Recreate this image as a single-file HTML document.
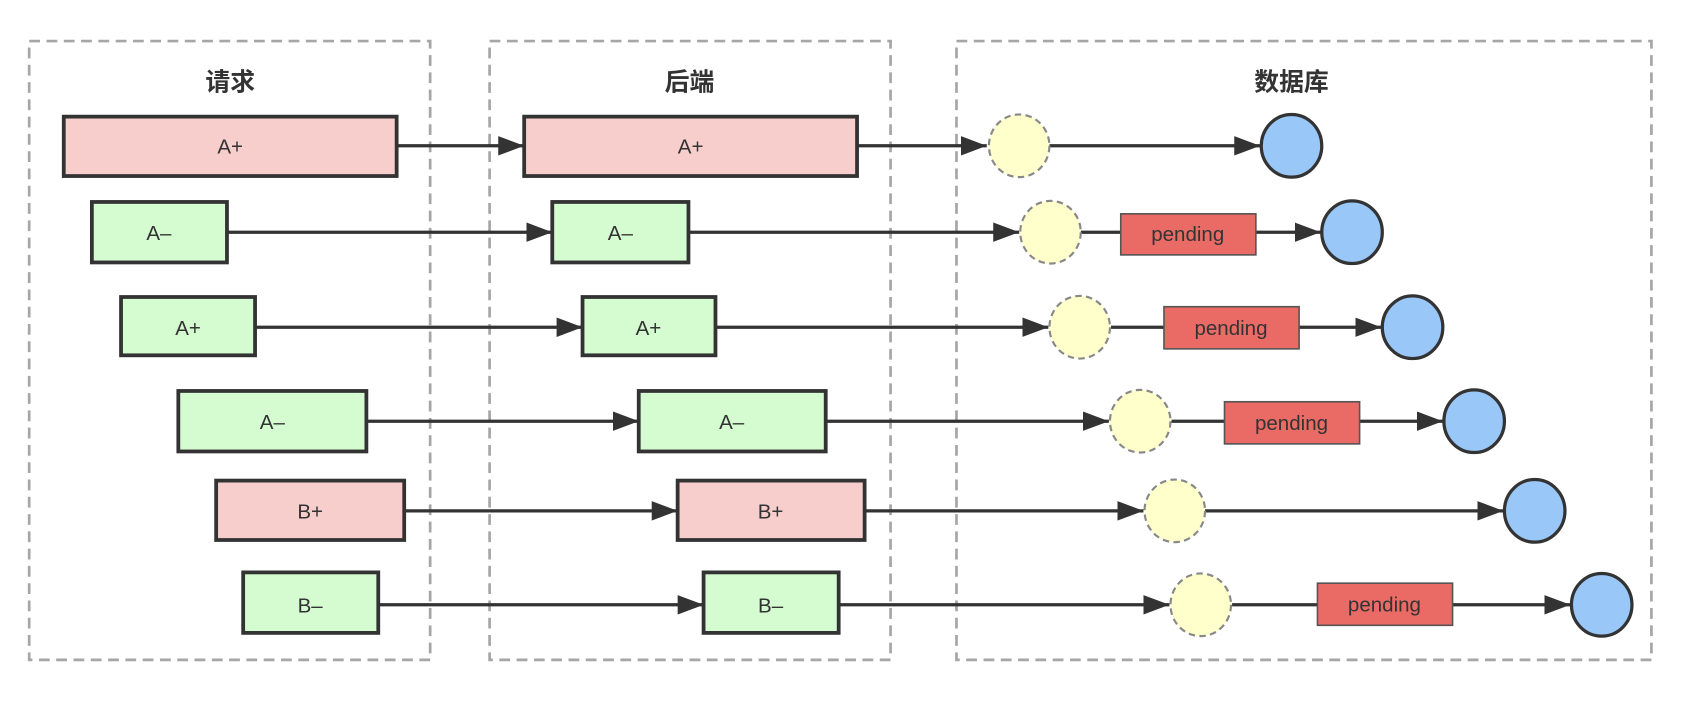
<!DOCTYPE html>
<html><head><meta charset="utf-8"><style>
html,body{margin:0;padding:0;background:#fff;}
svg{display:block;}
text{font-family:"Liberation Sans","Noto Sans CJK SC",sans-serif;}
</style></head><body>
<svg width="1686" height="702" viewBox="0 0 1560 650" preserveAspectRatio="none" xmlns="http://www.w3.org/2000/svg">
<defs>
<marker id="ar" markerWidth="24" markerHeight="18" refX="24" refY="9" orient="auto" markerUnits="userSpaceOnUse">
<path d="M0,0 L24,9 L0,18 Z" fill="#333"/>
</marker>
</defs>
<g fill="none" stroke="#a6a6a6" stroke-width="2.5" stroke-dasharray="10,6">
<rect x="27" y="38" width="371" height="573"/>
<rect x="453" y="38" width="371" height="573"/>
<rect x="885" y="38" width="643" height="573"/>
</g>
<g font-size="23" font-weight="bold" fill="#333" text-anchor="middle">
<text x="213" y="84">请求</text>
<text x="638" y="84">后端</text>
<text x="1195" y="84">数据库</text>
</g>
<g stroke="#333" stroke-width="3" marker-end="url(#ar)">
<line x1="367" y1="135" x2="485" y2="135"/>
<line x1="793" y1="135" x2="913" y2="135"/>
<line x1="971" y1="135" x2="1166" y2="135"/>
<line x1="210" y1="215" x2="511" y2="215"/>
<line x1="637" y1="215" x2="943" y2="215"/>
<line x1="1162" y1="215" x2="1222" y2="215"/>
<line x1="236" y1="303" x2="539" y2="303"/>
<line x1="662" y1="303" x2="970" y2="303"/>
<line x1="1202" y1="303" x2="1278" y2="303"/>
<line x1="339" y1="390" x2="591" y2="390"/>
<line x1="764" y1="390" x2="1026" y2="390"/>
<line x1="1258" y1="390" x2="1335" y2="390"/>
<line x1="374" y1="473" x2="627" y2="473"/>
<line x1="800" y1="473" x2="1058" y2="473"/>
<line x1="1115" y1="473" x2="1391" y2="473"/>
<line x1="350" y1="560" x2="651" y2="560"/>
<line x1="776" y1="560" x2="1082" y2="560"/>
<line x1="1344" y1="560" x2="1453" y2="560"/>
</g>
<g stroke="#333" stroke-width="3">
<line x1="1000" y1="215" x2="1037" y2="215"/>
<line x1="1028" y1="303" x2="1077" y2="303"/>
<line x1="1084" y1="390" x2="1133" y2="390"/>
<line x1="1140" y1="560" x2="1219" y2="560"/>
</g>
<g stroke="#333" stroke-width="3.5">
<rect x="59" y="108" width="308" height="55" fill="#f8cecc"/>
<rect x="485" y="108" width="308" height="55" fill="#f8cecc"/>
<rect x="85" y="187" width="125" height="56" fill="#d5fcd1"/>
<rect x="511" y="187" width="126" height="56" fill="#d5fcd1"/>
<rect x="112" y="275" width="124" height="54" fill="#d5fcd1"/>
<rect x="539" y="275" width="123" height="54" fill="#d5fcd1"/>
<rect x="165" y="362" width="174" height="56" fill="#d5fcd1"/>
<rect x="591" y="362" width="173" height="56" fill="#d5fcd1"/>
<rect x="200" y="445" width="174" height="55" fill="#f8cecc"/>
<rect x="627" y="445" width="173" height="55" fill="#f8cecc"/>
<rect x="225" y="530" width="125" height="56" fill="#d5fcd1"/>
<rect x="651" y="530" width="125" height="56" fill="#d5fcd1"/>
</g>
<g stroke="#555" stroke-width="1.5" fill="#ea6b66">
<rect x="1037" y="198" width="125" height="38"/>
<rect x="1077" y="284" width="125" height="39"/>
<rect x="1133" y="372" width="125" height="39"/>
<rect x="1219" y="540" width="125" height="39"/>
</g>
<g fill="#ffffcc" stroke="#888" stroke-width="2" stroke-dasharray="6,4">
<ellipse cx="943" cy="135" rx="28" ry="29"/>
<ellipse cx="972" cy="215" rx="28" ry="29"/>
<ellipse cx="999" cy="303" rx="28" ry="29"/>
<ellipse cx="1055" cy="390" rx="28" ry="29"/>
<ellipse cx="1087" cy="473" rx="28" ry="29"/>
<ellipse cx="1111" cy="560" rx="28" ry="29"/>
</g>
<g fill="#99c7f8" stroke="#333" stroke-width="3">
<ellipse cx="1195" cy="135" rx="28" ry="29"/>
<ellipse cx="1251" cy="215" rx="28" ry="29"/>
<ellipse cx="1307" cy="303" rx="28" ry="29"/>
<ellipse cx="1364" cy="390" rx="28" ry="29"/>
<ellipse cx="1420" cy="473" rx="28" ry="29"/>
<ellipse cx="1482" cy="560" rx="28" ry="29"/>
</g>
<g font-size="19" fill="#333" text-anchor="middle">
<text x="213" y="142">A+</text>
<text x="639" y="142">A+</text>
<text x="147" y="222">A–</text>
<text x="574" y="222">A–</text>
<text x="174" y="310">A+</text>
<text x="600" y="310">A+</text>
<text x="252" y="397">A–</text>
<text x="677" y="397">A–</text>
<text x="287" y="480">B+</text>
<text x="713" y="480">B+</text>
<text x="287" y="567">B–</text>
<text x="713" y="567">B–</text>
<text x="1099" y="223">pending</text>
<text x="1139" y="310">pending</text>
<text x="1195" y="398">pending</text>
<text x="1281" y="566">pending</text>
</g>
</svg>
</body></html>
